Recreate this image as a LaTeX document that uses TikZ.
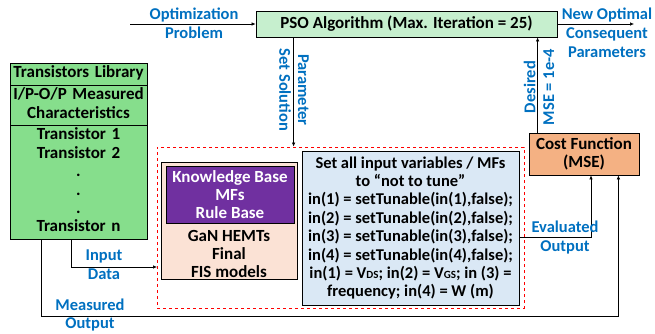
\documentclass[tikz,border=0pt]{standalone}
\usepackage{fontspec}
\setmainfont{Carlito}
\usetikzlibrary{positioning,arrows.meta,shapes.multipart}
\definecolor{psogreen}{RGB}{198,239,206}
\definecolor{libgreen}{RGB}{134,222,140}
\definecolor{costorange}{RGB}{244,177,131}
\definecolor{kbpeach}{RGB}{251,226,213}
\definecolor{kbpurple}{RGB}{112,48,160}
\definecolor{setblue}{RGB}{218,232,245}
\definecolor{lblblue}{RGB}{0,112,192}
\tikzstyle{blk}=[rectangle, draw=black, thick, inner sep=0pt, align=center, font=\fontsize{17}{18.4}\selectfont\bfseries]
\tikzstyle{lbl}=[text=lblblue, inner sep=0pt, align=center, font=\fontsize{16.5}{18.8}\selectfont\bfseries]
\tikzstyle{line}=[-{Latex[length=4pt,width=3.5pt]}, semithick]
\tikzstyle{fisbox}=[rectangle, draw=red, dashed, thick, inner sep=0pt]

\begin{document}
\begin{tikzpicture}[x=1pt, y=-1pt]
\useasboundingbox (0,0) rectangle (655,334);

% PSO and cost function
    \node (pso) [blk, fill=psogreen, minimum width=301pt, minimum height=26pt] at (406.5,24) {PSO Algorithm (Max. Iteration = 25)};
    \node (cost) [blk, fill=costorange, minimum width=110pt, minimum height=42pt] at (584,154) {Cost Function\\(MSE)};

% Transistors library
    \node (lib) [blk, fill=libgreen, text width=137pt, rectangle split, rectangle split parts=3, inner ysep=1.3pt, anchor=north] at (78.5,63)
        {\strut Transistors Library
         \nodepart{second} \strut I/P-O/P Measured\\Characteristics\strut
         \nodepart{third} \strut Transistor 1\\Transistor 2\\.\\.\\.\\Transistor n\strut};

% FIS block
    \node (fis) [fisbox, minimum width=367pt, minimum height=161pt] at (340.5,227.5) {};
    \node (kb) [blk, fill=kbpeach, minimum width=136pt, minimum height=117pt] at (229,220.5) {};
    \node (mfs) [blk, fill=kbpurple, text=white, minimum width=128pt, minimum height=57pt] at (230,194.5) {Knowledge Base\\MFs\\Rule Base};
    \node (kbtxt) [blk, draw=none] at (229,254) {GaN HEMTs\\Final\\FIS models};
    \node (set) [blk, fill=setblue, minimum width=217pt, minimum height=154pt, font=\fontsize{16.5}{18.4}\selectfont\bfseries] at (410.5,228)
        {Set all input variables / MFs\\to ``not to tune''\\
         in(1) = setTunable(in(1),false);\\in(2) = setTunable(in(2),false);\\
         in(3) = setTunable(in(3),false);\\in(4) = setTunable(in(4),false);\\
         in(1) = V{\fontsize{11}{11}\selectfont DS}; in(2) = V{\fontsize{11}{11}\selectfont GS}; in (3) =\\frequency; in(4) = W (m)};

% free ends and bends
    \coordinate (optin) at (130,24);
    \coordinate (optout) at (634,24);
    \coordinate (indat) at ([xshift=62pt]lib.south west);
    \coordinate (inend) at (157,267);
    \coordinate (meas) at ([xshift=32pt]lib.south west);
    \coordinate (mbot) at (0,316);
    \coordinate (mend) at ([xshift=-21pt]cost.south east);
    \coordinate (psoout) at ([xshift=38pt]pso.south west);
    \coordinate (costin) at ([xshift=9pt]cost.north west);

% connectors
    \draw[line] (optin) -- (pso.west);
    \draw[line] (pso.east) -- (optout);
    \draw[line] (psoout) -- (psoout |- fis.north);
    \draw[line] (costin) -- (costin |- pso.south);
    \draw[line] (indat) |- (inend);
    \draw[line] (meas) -- (meas |- mbot) -| (mend);
    \draw[line] ([yshift=-9pt]set.east) -| ([xshift=7pt]cost.south);

% labels
    \node (optlbl) [lbl] at (194,23.5) {Optimization\\Problem};
    \node (newlbl) [lbl] at (607,33) {New Optimal\\Consequent\\Parameters};
    \node (parlbl) [lbl, rotate=-90] at (294,90) {Parameter\\Set Solution};
    \node (mselbl) [lbl, rotate=90] at (539,87) {Desired\\MSE = 1e-4};
    \node (inlbl) [lbl] at (104,264.5) {Input\\Data};
    \node (measlbl) [lbl] at (90,315) {Measured\\Output};
    \node (evlbl) [lbl] at (565,237.5) {Evaluated\\Output};

\end{tikzpicture}
\end{document}
